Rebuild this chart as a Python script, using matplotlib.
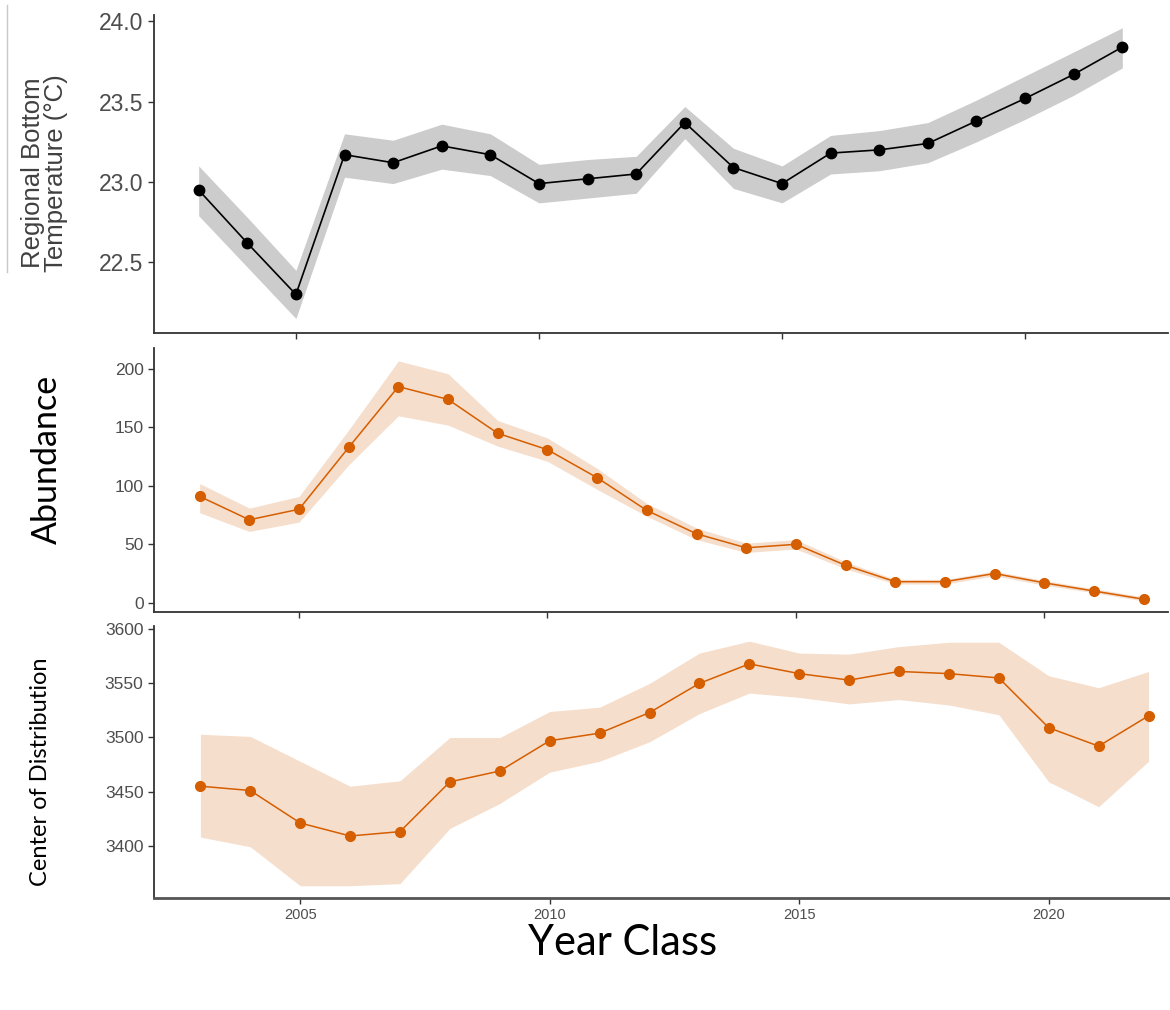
import matplotlib
matplotlib.use("Agg")
import matplotlib.pyplot as plt
from matplotlib.lines import Line2D

years = list(range(2003, 2023))

# regional bottom temperature (deg C) with ribbon bounds
temp = [22.95, 22.62, 22.30, 23.17, 23.12, 23.225, 23.17, 22.99, 23.02, 23.05,
        23.37, 23.09, 22.99, 23.18, 23.20, 23.24, 23.38, 23.52, 23.67, 23.84]
temp_lo = [22.79, 22.47, 22.15, 23.03, 22.99, 23.08, 23.04, 22.87, 22.90, 22.93,
           23.27, 22.96, 22.87, 23.05, 23.07, 23.12, 23.25, 23.39, 23.54, 23.71]
temp_hi = [23.10, 22.78, 22.45, 23.30, 23.26, 23.36, 23.30, 23.11, 23.14, 23.16,
           23.47, 23.21, 23.10, 23.29, 23.32, 23.37, 23.51, 23.66, 23.81, 23.96]

# abundance index
abund = [91, 71, 80, 133, 185, 174, 145, 131, 107, 79,
         59, 47, 50, 32, 18, 18, 25, 17, 10, 3]
abund_lo = [77, 61, 69, 118, 160, 152, 134, 121, 97, 74,
            54, 43, 46, 29, 16, 16, 23, 15, 8.5, 1.5]
abund_hi = [102, 81, 91, 148, 207, 196, 156, 141, 115, 85,
            64, 51, 54, 35, 20, 20, 27, 19, 12, 5]

# center of distribution
cod = [3455, 3451, 3421, 3409, 3413, 3459, 3469, 3497, 3504, 3523,
       3550, 3568, 3559, 3553, 3561, 3559, 3555, 3509, 3492, 3520]
cod_lo = [3408, 3399, 3363, 3363, 3365, 3416, 3439, 3468, 3478, 3496,
          3522, 3541, 3537, 3531, 3535, 3530, 3521, 3459, 3436, 3478]
cod_hi = [3503, 3501, 3478, 3455, 3460, 3500, 3500, 3524, 3528, 3550,
          3578, 3589, 3578, 3577, 3584, 3588, 3588, 3557, 3546, 3561]

orange = "#d55e00"
axcol = "#333333"
tickcol = "#4d4d4d"

fig = plt.figure(figsize=(11.7, 10.1), dpi=100)

ax1 = fig.add_axes([0.1316, 0.6703, 0.8667, 0.3149])
ax2 = fig.add_axes([0.1316, 0.3940, 0.8667, 0.2614])
ax3 = fig.add_axes([0.1316, 0.1109, 0.8684, 0.2693])

ax1.fill_between(years, temp_lo, temp_hi, color="#cccccc", lw=0)
ax1.plot(years, temp, color="black", lw=1.2, marker="o", ms=7.5)
ax1.set_xlim(2002.08, 2022.94)
ax1.set_ylim(22.06, 24.04)
ax1.set_yticks([22.5, 23.0, 23.5, 24.0])
ax1.set_yticklabels(["22.5", "23.0", "23.5", "24.0"])

ax2.fill_between(years, abund_lo, abund_hi, color=orange, alpha=0.2, lw=0)
ax2.plot(years, abund, color=orange, lw=1.1, marker="o", ms=7)
ax2.set_xlim(2002.08, 2022.49)
ax2.set_ylim(-8, 218)
ax2.set_yticks([0, 50, 100, 150, 200])

ax3.fill_between(years, cod_lo, cod_hi, color=orange, alpha=0.2, lw=0)
ax3.plot(years, cod, color=orange, lw=1.1, marker="o", ms=7)
ax3.set_xlim(2002.07, 2022.43)
ax3.set_ylim(3351.7, 3603)
ax3.set_yticks([3400, 3450, 3500, 3550, 3600])

for ax in (ax1, ax2, ax3):
    ax.spines["top"].set_visible(False)
    ax.spines["right"].set_visible(False)
    for s in ("left", "bottom"):
        ax.spines[s].set_color(axcol)
        ax.spines[s].set_linewidth(1.3)
    ax.set_xticks([2005, 2010, 2015, 2020])
    ax.tick_params(length=4, width=1, color=axcol, colors=tickcol)
    for lab in ax.get_yticklabels() + ax.get_xticklabels():
        lab.set_family("Liberation Sans")

ax1.tick_params(axis="y", labelsize=16.5)
ax1.tick_params(axis="x", labelbottom=False)
ax2.tick_params(axis="y", labelsize=12.5)
ax2.tick_params(axis="x", labelbottom=False)
ax3.tick_params(axis="y", labelsize=12.5)
ax3.tick_params(axis="x", labelsize=10.5)
ax3.spines["bottom"].set_linewidth(2)
ax3.spines["bottom"].set_color("#555555")

fig.text(0.038, 0.829, "Regional Bottom\nTemperature (°C)", rotation=90,
         ha="center", va="center", fontsize=18.5, color="#404040",
         family="Liberation Sans", linespacing=0.95)
fig.text(0.040, 0.545, "Abundance", rotation=90, ha="center", va="center",
         fontsize=24.5, color="black", family="Lato")
fig.text(0.035, 0.236, "Center of Distribution", rotation=90, ha="center",
         va="center", fontsize=17, color="black", family="Lato")
fig.text(0.532, 0.066, "Year Class", ha="center", va="center",
         fontsize=30, color="black", family="Lato")

# thin grey rule at the far left edge
fig.add_artist(Line2D([0.006, 0.006], [1 - 5 / 1010, 1 - 272 / 1010],
                      color="#c8c8c8", lw=1))

fig.savefig("out.png", dpi=100)
